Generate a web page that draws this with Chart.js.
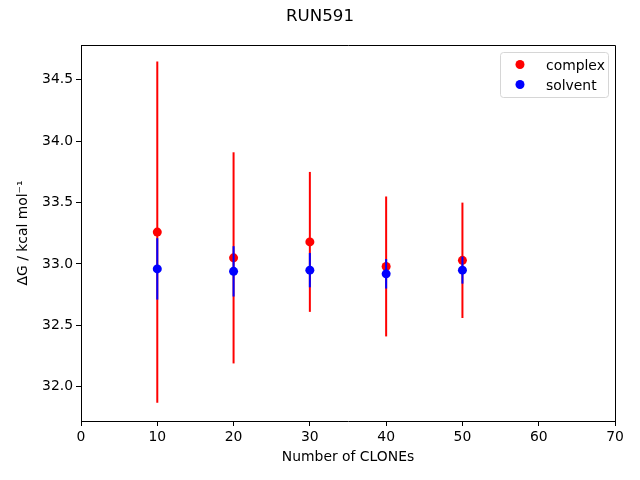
<!DOCTYPE html>
<html>
<head>
<meta charset="utf-8">
<script src="https://cdn.jsdelivr.net/npm/chart.js@4"></script>
<style>
  html, body { margin: 0; padding: 0; background: #fff; }
  #wrap { width: 640px; height: 480px; }
</style>
</head>
<body>
<div id="wrap"><canvas id="run591"></canvas></div>
<script>
const clones = [10, 20, 30, 40, 50];
const complexDG = [33.26, 33.05, 33.18, 32.98, 33.03];
const complexErr = [1.39, 0.86, 0.57, 0.57, 0.47];
const solventDG = [32.96, 32.94, 32.95, 32.92, 32.95];
const solventErr = [0.25, 0.205, 0.14, 0.12, 0.11];
const xTicks = [0, 10, 20, 30, 40, 50, 60, 70];
const yTicks = [32.0, 32.5, 33.0, 33.5, 34.0, 34.5];

const FONT = 'DejaVu Sans';
const FS = 13.9;

// error bars, drawn just before each dataset's markers
const errorBars = {
  id: 'errorBars',
  beforeDatasetDraw(chart, args) {
    const ds = chart.data.datasets[args.index];
    const y = chart.scales.y, x = chart.scales.x;
    const ctx = chart.ctx;
    ctx.save();
    ctx.strokeStyle = ds.borderColor;
    ctx.lineWidth = 2;
    ds.data.forEach((p, i) => {
      const px = x.getPixelForValue(p.x);
      ctx.beginPath();
      ctx.moveTo(px, y.getPixelForValue(p.y - ds.errors[i]));
      ctx.lineTo(px, y.getPixelForValue(p.y + ds.errors[i]));
      ctx.stroke();
    });
    ctx.restore();
  }
};

// suptitle, top/right spines and legend the matplotlib way
const decor = {
  id: 'decor',
  afterDraw(chart) {
    const ctx = chart.ctx;
    const a = chart.chartArea;
    ctx.save();
    ctx.strokeStyle = '#000';
    ctx.lineWidth = 1;
    ctx.beginPath();
    ctx.moveTo(Math.round(a.left), Math.round(a.top) + 0.5);
    ctx.lineTo(Math.round(a.right) + 0.5, Math.round(a.top) + 0.5);
    ctx.lineTo(Math.round(a.right) + 0.5, Math.round(a.bottom) + 1);
    ctx.stroke();

    ctx.fillStyle = '#000';
    ctx.font = '16.67px ' + FONT;
    ctx.textAlign = 'center';
    ctx.textBaseline = 'middle';
    ctx.fillText('RUN591', 320, 17);

    // legend box
    const bx = 500.5, by = 52.5, bw = 108, bh = 45;
    ctx.beginPath();
    ctx.roundRect(bx, by, bw, bh, 3);
    ctx.fillStyle = 'rgba(255,255,255,0.8)';
    ctx.fill();
    ctx.strokeStyle = '#d6d6d6';
    ctx.stroke();
    ctx.font = FS + 'px ' + FONT;
    ctx.textAlign = 'left';
    ctx.textBaseline = 'alphabetic';
    chart.data.datasets.forEach((ds, i) => {
      const cy = 64.5 + i * 20;
      ctx.beginPath();
      ctx.arc(520, cy, 4.5, 0, Math.PI * 2);
      ctx.fillStyle = ds.backgroundColor;
      ctx.fill();
      ctx.fillStyle = '#000';
      ctx.fillText(ds.label, 546, cy + 5);
    });
    ctx.restore();
  }
};

const complexPts = clones.map((c, i) => ({ x: c, y: complexDG[i] }));
const solventPts = clones.map((c, i) => ({ x: c, y: solventDG[i] }));

new Chart(document.getElementById('run591'), {
  type: 'scatter',
  data: {
    datasets: [
      { label: 'complex', data: complexPts, errors: complexErr, order: 1,
        backgroundColor: 'rgb(255,0,0)', borderColor: 'rgb(255,0,0)', pointRadius: 4.5, pointBorderWidth: 0, pointHoverRadius: 4.5 },
      { label: 'solvent', data: solventPts, errors: solventErr, order: 0,
        backgroundColor: 'rgb(0,0,255)', borderColor: 'rgb(0,0,255)', pointRadius: 4.5, pointBorderWidth: 0, pointHoverRadius: 4.5 }
    ]
  },
  options: {
    responsive: true,
    maintainAspectRatio: false,
    animation: false,
    events: [],
    layout: { padding: { top: 45, right: 25, left: 0, bottom: 0 } },
    plugins: {
      legend: { display: false },
      title: { display: false },
      tooltip: { enabled: false }
    },
    scales: {
      x: {
        type: 'linear',
        min: 0, max: 70,
        afterFit(s) { s.height = 59; },
        afterBuildTicks(s) { s.ticks = xTicks.map(v => ({ value: v })); },
        grid: { drawOnChartArea: false, drawTicks: true, tickLength: 5, color: '#000' },
        border: { color: '#000', width: 1 },
        ticks: { color: '#000', padding: 3, font: { family: FONT, size: FS }, maxRotation: 0 },
        title: { display: true, text: 'Number of CLONEs', color: '#000',
                 font: { family: FONT, size: FS }, padding: { top: 0, bottom: 14.5 } }
      },
      y: {
        type: 'linear',
        min: 31.721, max: 34.784,
        afterFit(s) { s.width = 81; },
        afterBuildTicks(s) { s.ticks = yTicks.map(v => ({ value: v })); },
        grid: { drawOnChartArea: false, drawTicks: true, tickLength: 5, color: '#000' },
        border: { color: '#000', width: 1 },
        ticks: { color: '#000', padding: 3, font: { family: FONT, size: FS },
                 callback: v => v.toFixed(1) },
        title: { display: true, text: 'ΔG / kcal mol⁻¹', color: '#000',
                 font: { family: FONT, size: FS }, padding: { top: 15.5, bottom: 0 } }
      }
    }
  },
  plugins: [errorBars, decor]
});
</script>
</body>
</html>
